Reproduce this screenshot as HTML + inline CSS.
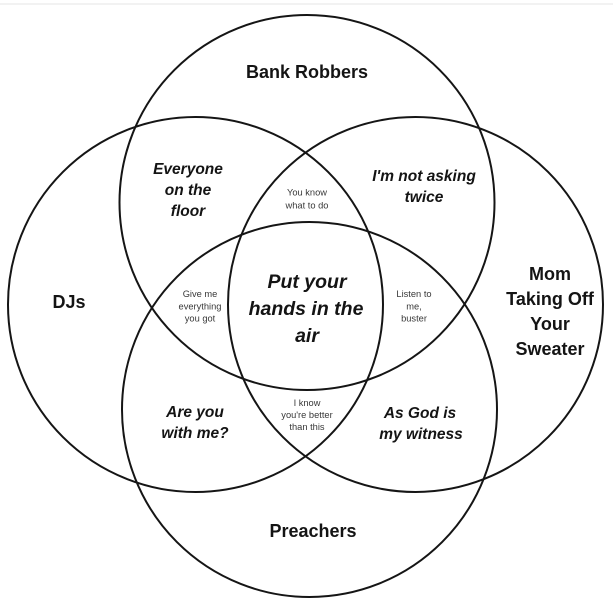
<!DOCTYPE html>
<html>
<head>
<meta charset="utf-8">
<style>
  html, body { margin: 0; padding: 0; background: #ffffff; }
  body { width: 613px; height: 612px; overflow: hidden; }
  svg { display: block; }
  .lbl { font-family: "Liberation Sans", Arial, sans-serif; font-weight: bold; font-size: 18px; fill: #141414; }
  .it { font-family: "Liberation Sans", Arial, sans-serif; font-weight: bold; font-style: italic; font-size: 15.5px; fill: #141414; }
  .big { font-family: "Liberation Sans", Arial, sans-serif; font-weight: bold; font-style: italic; font-size: 19.5px; fill: #141414; }
  .sm { font-family: "Liberation Sans", Arial, sans-serif; font-size: 9.3px; fill: #383838; }
</style>
</head>
<body>
<svg width="613" height="612" viewBox="0 0 613 612" xmlns="http://www.w3.org/2000/svg">
  <rect x="0" y="0" width="613" height="612" fill="#ffffff"/>
  <line x1="0" y1="4" x2="613" y2="4" stroke="#e4e4e4" stroke-width="1"/>

  <g fill="none" stroke="#151515" stroke-width="2">
    <circle cx="307" cy="202.5" r="187.5"/>
    <circle cx="195.5" cy="304.5" r="187.5"/>
    <circle cx="415.5" cy="304.5" r="187.5"/>
    <circle cx="309.5" cy="409.5" r="187.5"/>
  </g>

  <g text-anchor="middle">
    <text class="lbl" x="307" y="78">Bank Robbers</text>
    <text class="lbl" x="69" y="308">DJs</text>
    <text class="lbl" x="550" y="280">Mom</text>
    <text class="lbl" x="550" y="305">Taking Off</text>
    <text class="lbl" x="550" y="330">Your</text>
    <text class="lbl" x="550" y="355">Sweater</text>
    <text class="lbl" x="313" y="537">Preachers</text>

    <text class="it" x="188" y="174">Everyone</text>
    <text class="it" x="188" y="195">on the</text>
    <text class="it" x="188" y="216">floor</text>

    <text class="it" x="424" y="181">I'm not asking</text>
    <text class="it" x="424" y="202">twice</text>

    <text class="big" x="307" y="288">Put your</text>
    <text class="big" x="306" y="315">hands in the</text>
    <text class="big" x="307" y="342">air</text>

    <text class="it" x="195" y="417">Are you</text>
    <text class="it" x="195" y="438">with me?</text>

    <text class="it" x="420" y="418">As God is</text>
    <text class="it" x="421" y="439">my witness</text>

    <text class="sm" x="307" y="195.5">You know</text>
    <text class="sm" x="307" y="208.5">what to do</text>

    <text class="sm" x="200" y="297">Give me</text>
    <text class="sm" x="200" y="309.5">everything</text>
    <text class="sm" x="200" y="321.5">you got</text>

    <text class="sm" x="414" y="297">Listen to</text>
    <text class="sm" x="414" y="309.5">me,</text>
    <text class="sm" x="414" y="321.5">buster</text>

    <text class="sm" x="307" y="406">I know</text>
    <text class="sm" x="307" y="418">you're better</text>
    <text class="sm" x="307" y="430">than this</text>
  </g>
</svg>
</body>
</html>
